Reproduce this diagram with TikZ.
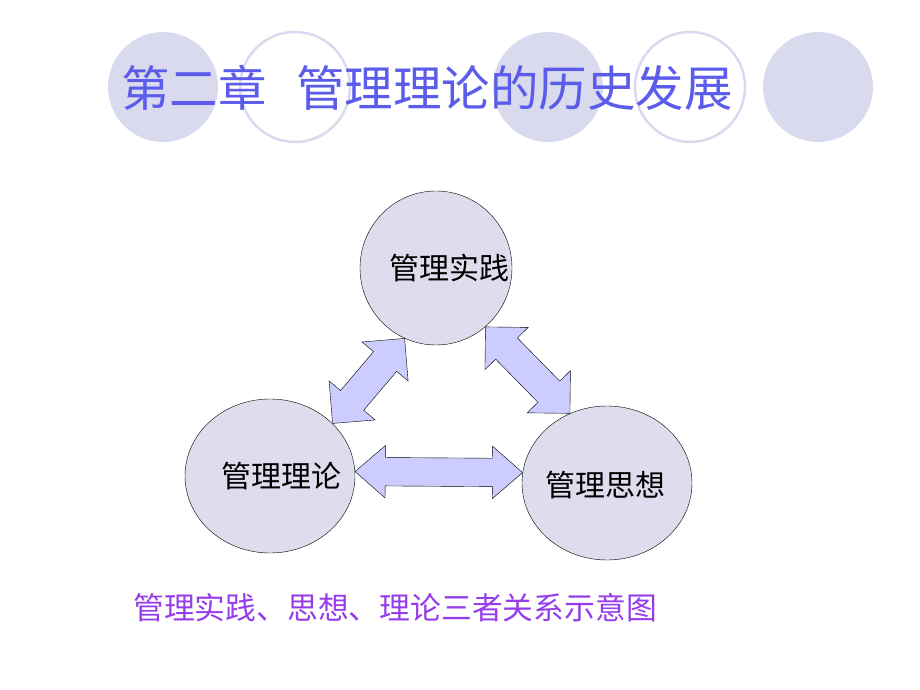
\documentclass[tikz,border=0pt]{standalone}
\usepackage{fontspec}
\setmainfont{Noto Sans CJK SC}
\usepackage{tikz}
\usetikzlibrary{calc, positioning, shapes.geometric, shapes.arrows}

\definecolor{lav}{RGB}{218,218,238}
\definecolor{oval}{RGB}{221,221,238}
\definecolor{arrfill}{RGB}{204,204,255}
\definecolor{titleblue}{RGB}{92,92,235}
\definecolor{capviolet}{RGB}{150,60,235}

\begin{document}
\begin{tikzpicture}[x=1pt, y=1pt,
  deco/.style={circle, minimum size=110pt, inner sep=0pt},
  decofill/.style={deco, fill=lav},
  decoring/.style={deco, draw=lav, line width=2.5pt},
  oval/.style={draw, ellipse, fill=oval, thin, inner sep=0pt, minimum height=154pt},
  ovaltext/.style={font=\fontsize{30}{31}\selectfont},
  dbl/.style={draw, thin, fill=arrfill, double arrow, inner xsep=0pt, inner ysep=14pt,
    double arrow head extend=12pt, double arrow tip angle=82},
  dbldiag/.style={dbl, inner ysep=15pt, double arrow head extend=15pt, double arrow tip angle=90}
]
\useasboundingbox (0,0) rectangle (920,690);

% title row
\node (d1) [decofill] at (163,603) {};
\node (d2) [decoring] at (295,603) {};
\node (d3) [decofill] at (548,603) {};
\node (d4) [decoring] at (690,603) {};
\node (d5) [decofill] at (818,603) {};
\node (title) [text=titleblue, font=\fontsize{48.5}{50}\selectfont] at (427,602) {第二章\hspace{0.6em}管理理论的历史发展};

% three ovals
\node (prac) [oval, minimum width=152pt,
  label={[ovaltext, xshift=13pt]center:管理实践}] at (436,422) {};
\node (theory) [oval, minimum width=170pt,
  label={[ovaltext, xshift=11pt]center:管理理论}] at (270,214) {};
\node (thought) [oval, minimum width=170pt,
  label={[ovaltext, xshift=-2pt, yshift=-2pt]center:管理思想}] at (607,207) {};

% block arrows between the ovals
\coordinate (l1) at (theory.40);  \coordinate (l2) at (prac.246);
\coordinate (r1) at (prac.310);   \coordinate (r2) at (thought.118);
\coordinate (h1) at (theory.3);   \coordinate (h2) at (thought.173);
\path let \p1=($(l2)-(l1)$), \n1={atan2(\y1,\x1)}, \n2={veclen(\x1,\y1)} in
  node (al) [dbldiag, rotate=\n1, minimum height=\n2] at ($(l1)!0.5!(l2)$) {};
\path let \p1=($(r2)-(r1)$), \n1={atan2(\y1,\x1)}, \n2={veclen(\x1,\y1)} in
  node (ar) [dbldiag, rotate=\n1, minimum height=\n2] at ($(r1)!0.5!(r2)$) {};
\path let \p1=($(h2)-(h1)$), \n1={atan2(\y1,\x1)}, \n2={veclen(\x1,\y1)} in
  node (ah) [dbl, rotate=\n1, minimum height=\n2] at ($(h1)!0.5!(h2)$) {};

% caption
\node (cap) [text=capviolet, font=\fontsize{30.8}{32}\selectfont] at (395,82) {管理实践、思想、理论三者关系示意图};
\end{tikzpicture}
\end{document}
